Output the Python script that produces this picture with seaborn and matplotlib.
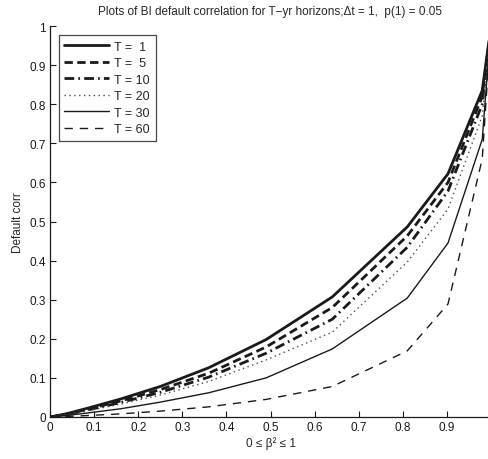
import matplotlib
matplotlib.use("Agg")
import matplotlib.pyplot as plt
import seaborn as sns
import pandas as pd

beta_sq = [0, 0.01, 0.04, 0.09, 0.16, 0.25, 0.36, 0.49, 0.64, 0.81, 0.9025, 0.9801, 1.0]
horizons = [1, 5, 10, 20, 30, 60]
corr_T1 = [0, 0.002, 0.009, 0.024, 0.046, 0.078, 0.126, 0.198, 0.307, 0.486, 0.622, 0.835, 1.0]
corr_T5 = [0, 0.0018, 0.008, 0.021, 0.041, 0.070, 0.112, 0.179, 0.280, 0.463, 0.600, 0.820, 1.0]
corr_T10 = [0, 0.0015, 0.007, 0.019, 0.037, 0.063, 0.102, 0.163, 0.250, 0.434, 0.578, 0.800, 1.0]
corr_T20 = [0, 0.0013, 0.006, 0.017, 0.033, 0.056, 0.091, 0.146, 0.217, 0.396, 0.532, 0.770, 1.0]
corr_T30 = [0, 0.001, 0.004, 0.011, 0.021, 0.038, 0.062, 0.100, 0.174, 0.304, 0.445, 0.710, 1.0]
corr_T60 = [0, 0.0003, 0.0015, 0.004, 0.008, 0.015, 0.026, 0.045, 0.078, 0.169, 0.289, 0.660, 1.0]
series = [corr_T1, corr_T5, corr_T10, corr_T20, corr_T30, corr_T60]
labels = ["T =  1", "T =  5", "T = 10", "T = 20", "T = 30", "T = 60"]
x_ticks = [0, 0.1, 0.2, 0.3, 0.4, 0.5, 0.6, 0.7, 0.8, 0.9, 1]
y_ticks = [0, 0.1, 0.2, 0.3, 0.4, 0.5, 0.6, 0.7, 0.8, 0.9, 1]

sns.set_theme(style="white")
plt.rcParams["font.family"] = ["Liberation Sans", "DejaVu Sans"]
plt.rcParams["axes.linewidth"] = 0.9

styles = [
    dict(lw=2.0, linestyle="-"),
    dict(lw=2.0, linestyle=(0, (3, 1.6))),
    dict(lw=2.0, linestyle=(0, (3.5, 1.5, 0.6, 1.5))),
    dict(lw=1.0, linestyle=(0, (1, 2.5)), color="0.3"),
    dict(lw=1.0, linestyle="-"),
    dict(lw=1.0, linestyle=(0, (6, 5))),
]

fig = plt.figure(figsize=(4.89, 4.60), dpi=100)
ax = fig.add_axes([50 / 489, 42 / 460, 441 / 489, 391 / 460])

for lab, vals, st in zip(labels, series, styles):
    df = pd.DataFrame({"x": beta_sq, "y": vals})
    kw = dict(st)
    color = kw.pop("color", "k")
    sns.lineplot(data=df, x="x", y="y", ax=ax, color=color, label=lab, **kw)

ax.set_xlim(0, 1)
ax.set_ylim(0, 1)
ax.set_xticks(x_ticks)
ax.set_xticklabels([f"{t:g}" for t in x_ticks])
ax.set_yticks(y_ticks)
ax.set_yticklabels([f"{t:g}" for t in y_ticks])
ax.tick_params(direction="in", length=4, width=0.8, labelsize=8.5, colors="k",
               bottom=True, left=True, pad=3)
for s in ["top", "right"]:
    ax.spines[s].set_visible(False)
for s in ["left", "bottom"]:
    ax.spines[s].set_color("k")

ax.set_xlabel("0 ≤ β² ≤ 1", fontsize=8.5, labelpad=2)
ax.set_ylabel("Default corr", fontsize=8.5, labelpad=4)
ax.set_title("Plots of BI default correlation for T−yr horizons;Δt = 1,  p(1) = 0.05",
             fontsize=8.5, pad=9)

leg = ax.legend(loc="upper left", bbox_to_anchor=(0.014, 0.983), fontsize=9,
                frameon=True, fancybox=False, handlelength=3.6, handletextpad=0.4,
                labelspacing=0.36, borderpad=0.45, borderaxespad=0.2)
leg.get_frame().set_edgecolor("k")
leg.get_frame().set_linewidth(0.9)

fig.savefig("out.png", dpi=100)
